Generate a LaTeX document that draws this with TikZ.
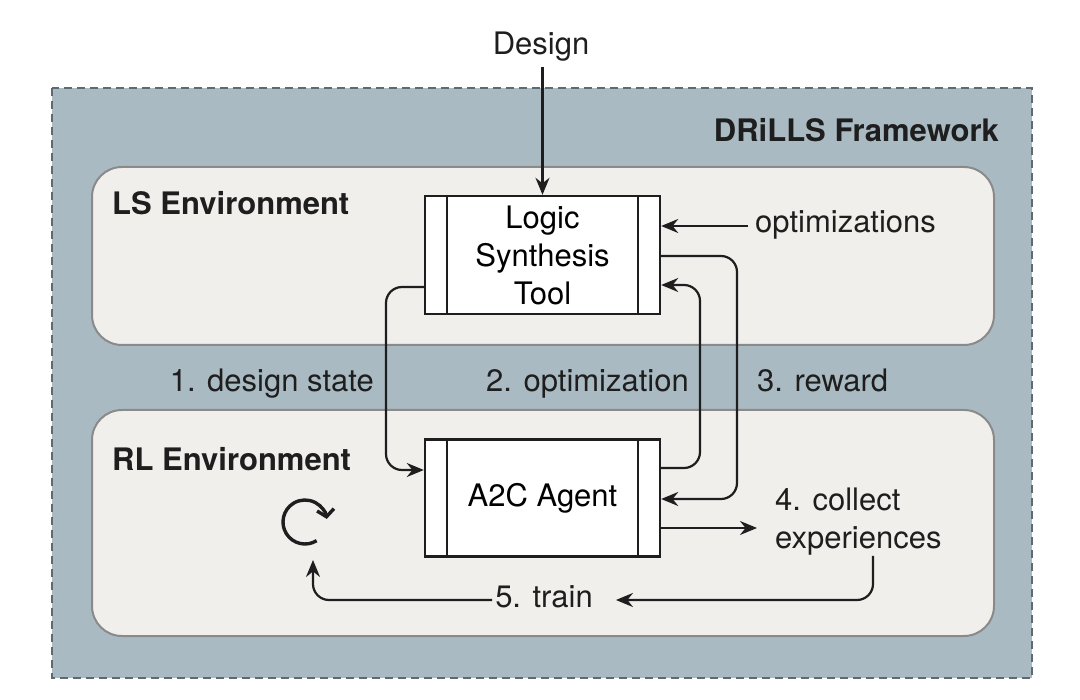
\documentclass[tikz,border=0pt]{standalone}
\usepackage{fontspec}
\setmainfont{TeX Gyre Heros}
\usetikzlibrary{arrows.meta}
\definecolor{framefill}{HTML}{AABAC2}
\definecolor{framedraw}{HTML}{5E6A70}
\definecolor{envfill}{HTML}{F0EFEC}
\definecolor{envdraw}{HTML}{8A8A8A}
\definecolor{ink}{HTML}{1E1E1E}
\tikzset{
  envbox/.style={draw=envdraw, fill=envfill, line width=2pt, rounded corners=30pt},
  toolbox/.style={draw=ink, fill=white, line width=2.4pt, minimum width=235pt, inner sep=0pt, align=center},
  conn/.style={draw=ink, line width=2.2pt, rounded corners=16pt, -{Stealth[length=17pt,width=14pt]}},
  lbl/.style={inner sep=0pt, text=ink},
  title/.style={inner sep=0pt, text=ink, font=\fontsize{31}{38}\selectfont\bfseries},
}
\begin{document}
\begin{tikzpicture}[x=1pt,y=-1pt, font=\fontsize{31}{38}\selectfont]
\useasboundingbox[fill=white] (0,0) rectangle (1080,700);
% outer frame
\draw[fill=framefill, draw=framedraw, line width=2pt, dash pattern=on 8pt off 5pt] (52,88) rectangle (1032,678);
% environments
\draw[envbox] (92,167) rectangle (994,345);
\draw[envbox] (92,410) rectangle (994,636);
% titles
\node[title, anchor=base east] (fw) at (999,142) {DRiLLS Framework};
\node[title, anchor=base west] (lsenv) at (112,215) {LS Environment};
\node[title, anchor=base west] (rlenv) at (112,471) {RL Environment};
% boxes
\node[toolbox, minimum height=118pt] (lst) at (542.5,255) {Logic\\Synthesis\\Tool};
\node[toolbox, minimum height=117pt] (a2c) at (542.5,498) {A2C Agent};
\foreach \b in {lst,a2c}{
  \draw[ink, line width=2.4pt] ([xshift=23pt]\b.north west) -- ([xshift=23pt]\b.south west);
  \draw[ink, line width=2.4pt] ([xshift=-23pt]\b.north east) -- ([xshift=-23pt]\b.south east);
}
% texts
\node[lbl, anchor=base] (design) at (541,55) {Design};
\node[lbl, anchor=base west] (opts) at (755,233) {optimizations};
\node[lbl, anchor=base east] (l1) at (374,392) {1. design state};
\node[lbl, anchor=base east] (l2) at (689,392) {2. optimization};
\node[lbl, anchor=base west] (l3) at (757,392) {3. reward};
\node[lbl, anchor=north west, align=left] (collect) at (775,488) {4. collect\\experiences};
\node[lbl, anchor=base, inner xsep=3pt] (train) at (544,608) {5. train};
% cycle symbol
\node[minimum size=48pt, inner sep=0pt] (cyc) at (305,522) {};
\draw[ink, line width=3.4pt, -{Straight Barb[length=7pt,width=17pt]}] ([shift={(58:22)}]cyc.center) arc[start angle=58, end angle=352, radius=22];
% connectors
\draw[conn] ([yshift=-5pt]design.south -| lst.north) -- (lst.north);
\draw[conn] ([xshift=-7pt]opts.west |- 0,226) -- (lst.east |- 0,226);
\draw[conn] (lst.west |- 0,287) -- (386,287) -- (386,470) -- (a2c.west |- 0,470);
\draw[conn] (a2c.east |- 0,468) -- (700,468) -- (700,285) -- (lst.east |- 0,285);
\draw[conn] (lst.east |- 0,256) -- (737,256) -- (737,499) -- (a2c.east |- 0,499);
\draw[conn] (a2c.east |- 0,528) -- (757,528);
\draw[conn] (collect.south -| 873,0) -- (873,600) -- ([xshift=20pt]train.east |- 0,600);
\coordinate (cycin) at (313,560);
\draw[conn] (train.west |- 0,600) -- (313,600) -- (cycin);
\end{tikzpicture}
\end{document}
